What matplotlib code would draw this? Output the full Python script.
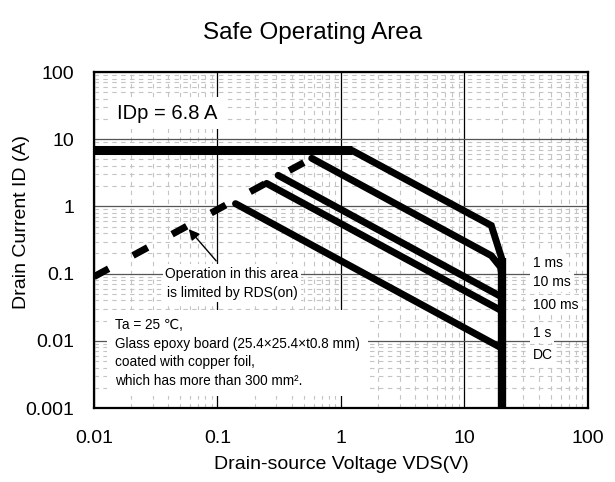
import matplotlib
matplotlib.use('Agg')
import matplotlib.pyplot as plt

plt.rcParams['font.family'] = ['Liberation Sans', 'DejaVu Sans']

# Предельные линии SOA (В, А)
lim_v = [0.01, 1.23]
lim_i = [6.8, 6.8]
vdss_v = [20, 20]
vdss_i = [0.17, 0.001]
rds_v = [0.01, 0.58]
rds_i = [0.09, 5.2]

ms1_v = [1.23, 16.5, 20]
ms1_i = [6.8, 0.52, 0.17]
ms10_v = [0.58, 16.5, 19.6, 20]
ms10_i = [5.2, 0.185, 0.125, 0.1]
ms100_v = [0.31, 20]
ms100_i = [2.9, 0.045]
s1_v = [0.25, 20]
s1_i = [2.2, 0.028]
dc_v = [0.14, 20]
dc_i = [1.1, 0.0078]

x_ticks = [0.01, 0.1, 1, 10, 100]
x_labels = ['0.01', '0.1', '1', '10', '100']
y_ticks = [0.001, 0.01, 0.1, 1, 10, 100]
y_labels = ['0.001', '0.01', '0.1', '1', '10', '100']

fig = plt.figure(figsize=(6.15, 4.82), dpi=100)
ax = fig.add_axes([0.1528, 0.1535, 0.8032, 0.6971])
ax.set_xscale('log')
ax.set_yscale('log')
ax.set_xlim(0.01, 100)
ax.set_ylim(0.001, 100)

# Сетка
ax.grid(which='minor', color='#c4c4c4', linestyle=(0, (4, 4)), linewidth=0.8)
ax.grid(which='major', axis='x', color='black', linewidth=0.9)
ax.grid(which='major', axis='y', color='#555555', linewidth=0.9)
ax.set_axisbelow(True)

# Линии
ax.plot(lim_v, lim_i, color='black', lw=6.5, solid_capstyle='butt')
ax.plot(vdss_v, vdss_i, color='black', lw=6, solid_capstyle='butt')
ax.plot(rds_v, rds_i, color='black', lw=5, linestyle=(0, (2.4, 4)), dash_capstyle='butt')
for v, i in [(ms1_v, ms1_i), (ms10_v, ms10_i), (ms100_v, ms100_i), (s1_v, s1_i), (dc_v, dc_i)]:
    ax.plot(v, i, color='black', lw=5, solid_capstyle='round', solid_joinstyle='miter')

box = dict(facecolor='white', edgecolor='none', pad=2)

ax.text(0.0154, 24.5, 'IDp = 6.8 A', fontsize=14.5, ha='left', va='center',
        bbox=dict(facecolor='white', edgecolor='none', pad=5))

ax.text(0.131, 0.072, 'Operation in this area\nis limited by RDS(on)', fontsize=10,
        ha='center', va='center', linespacing=1.45, bbox=box)
ax.annotate('', xy=(0.0566, 0.493), xytext=(0.101, 0.144),
            arrowprops=dict(arrowstyle='-|>', color='black', lw=1, mutation_scale=16))

ax.text(0.0148, 0.0066, 'Ta = 25 \u2103,\nGlass epoxy board (25.4\u00d725.4\u00d7t0.8 mm)\n'
        'coated with copper foil,\nwhich has more than 300 mm\u00b2.',
        fontsize=9.8, ha='left', va='center', linespacing=1.4,
        bbox=dict(facecolor='white', edgecolor='none', pad=6))

for lbl, y in [('1 ms', 0.144), ('10 ms', 0.075), ('100 ms', 0.034), ('1 s', 0.0131), ('DC', 0.00615)]:
    ax.text(35.9, y, lbl, fontsize=10, ha='left', va='center', bbox=box)

ax.set_xticks(x_ticks)
ax.set_xticklabels(x_labels)
ax.set_yticks(y_ticks)
ax.set_yticklabels(y_labels)
ax.tick_params(which='both', length=0, labelsize=14)
ax.tick_params(axis='x', pad=16)
ax.tick_params(axis='y', pad=14)
for s in ax.spines.values():
    s.set_linewidth(1.6)

ax.set_xlabel('Drain-source Voltage VDS(V)', fontsize=14, labelpad=6)
ax.set_ylabel('Drain Current ID (A)', fontsize=14)
ax.yaxis.set_label_coords(-0.13, 0.554)
fig.text(0.508, 0.931, 'Safe Operating Area', fontsize=17.5, ha='center', va='center')

fig.savefig('out.png', dpi=100)
